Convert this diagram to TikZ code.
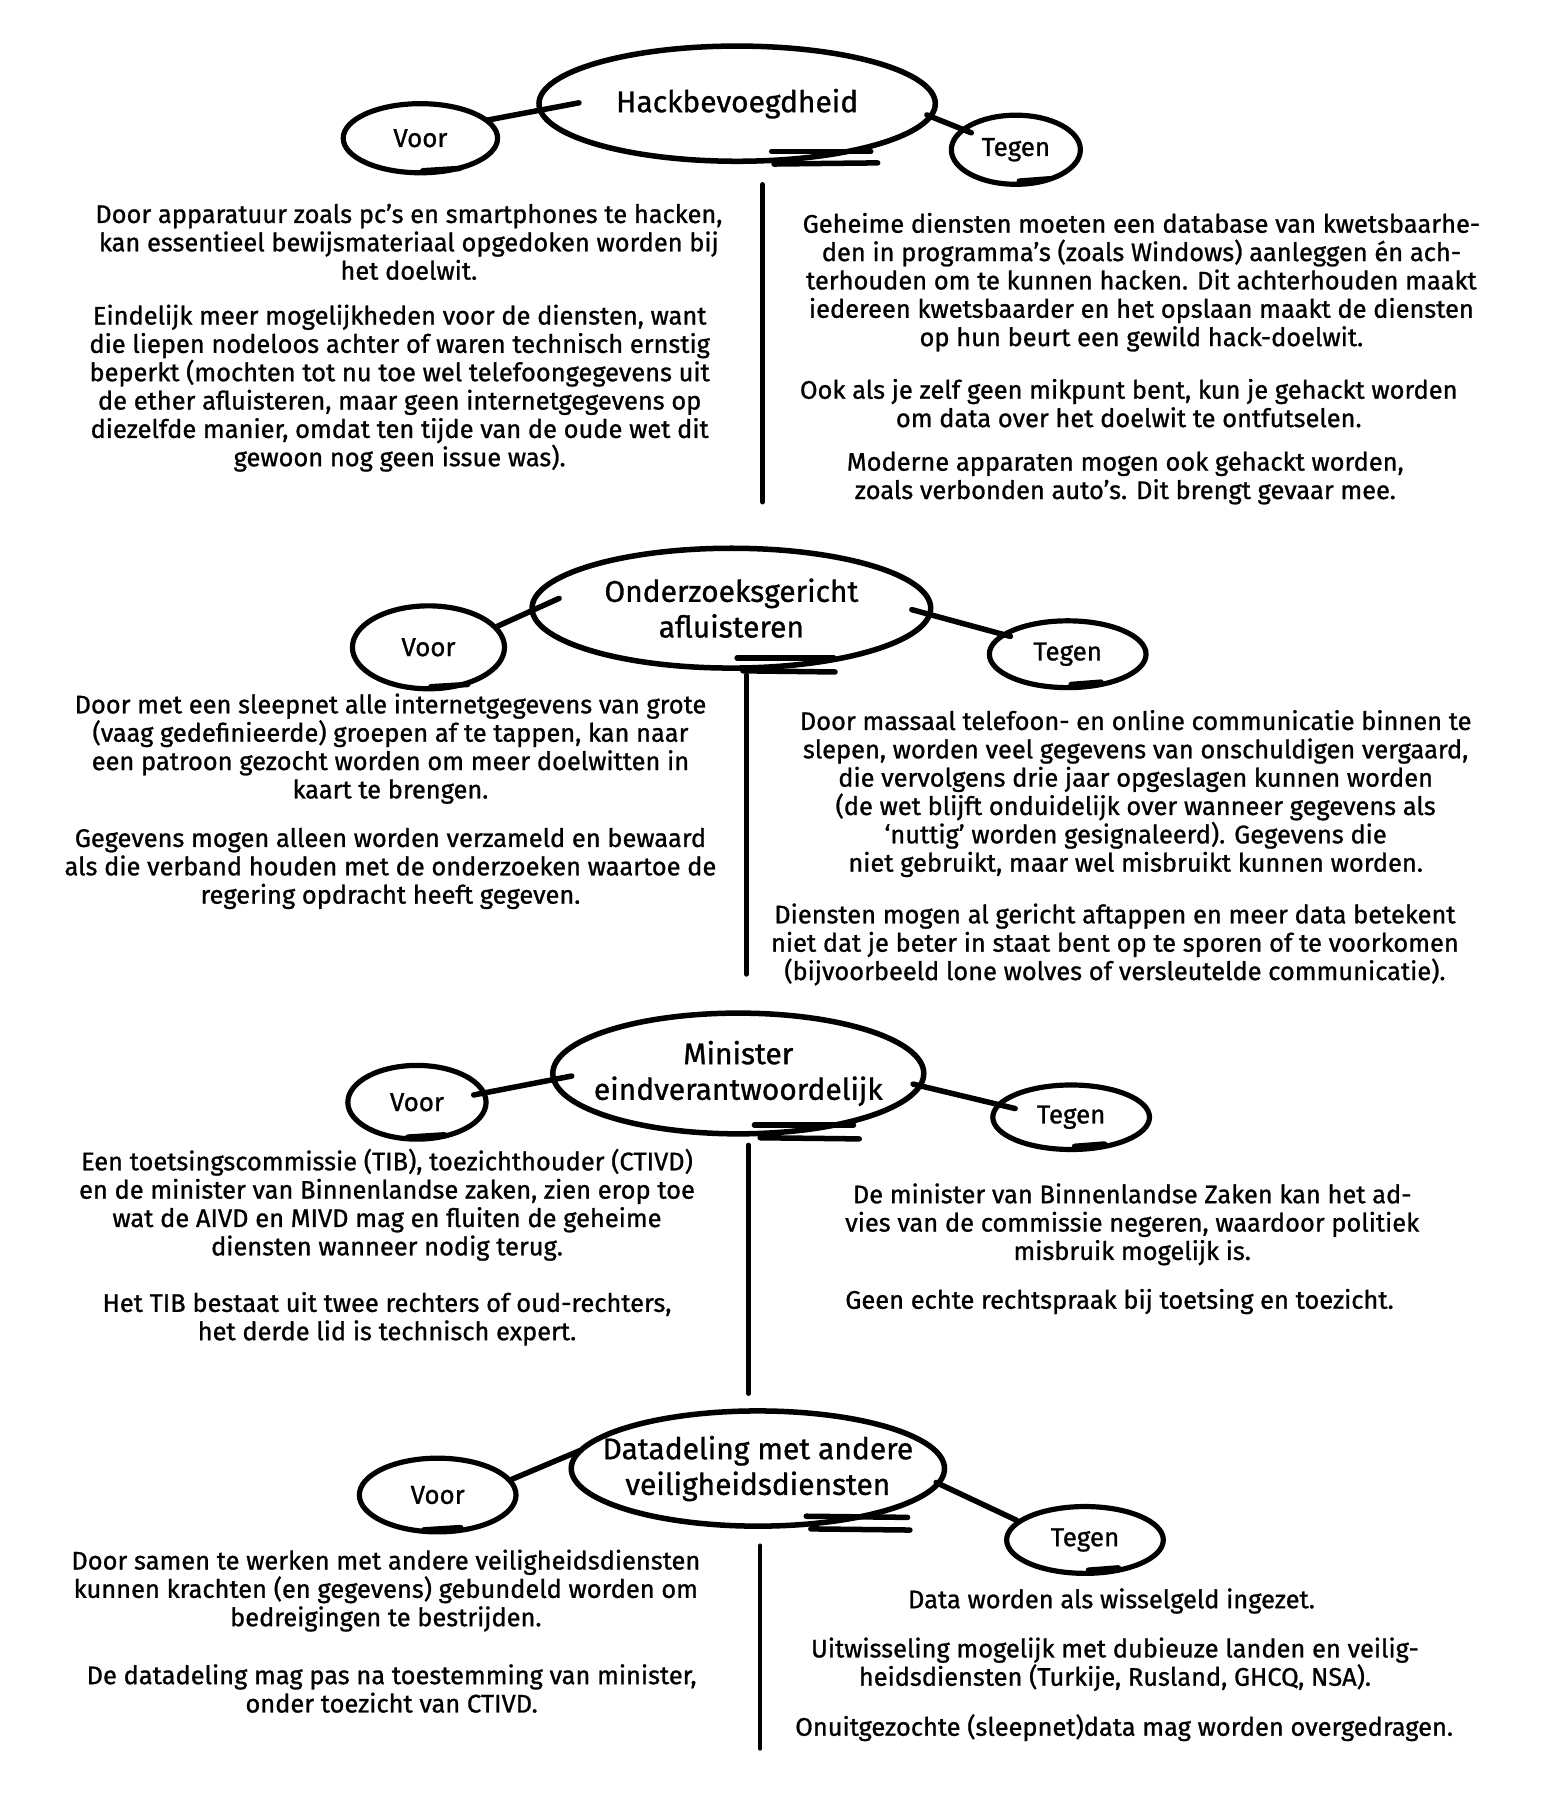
\documentclass[tikz,border=0pt]{standalone}
\usepackage{fontspec}
\setmainfont{Fira Sans}[FakeBold=1]
\usetikzlibrary{shapes.geometric}

\begin{document}
\begin{tikzpicture}[
  x=0.025cm, y=-0.025cm,
  every node/.style={font=\fontsize{15.7}{17.5}\selectfont},
  topic/.style={
    ellipse, draw, line width=3.4pt, inner xsep=-30pt, inner ysep=-8pt,
    align=center, font=\fontsize{18.5}{22}\selectfont
  },
  side/.style={
    ellipse, draw, line width=3.2pt, inner sep=0pt,
    font=\fontsize{16}{18}\selectfont
  },
  pen/.style={line width=3.4pt, line cap=round},
  divider/.style={line width=2.8pt, line cap=round},
  para/.style={align=center, inner sep=0pt},
]
\useasboundingbox (0,0) rectangle (1341,1568);

%% Block 1: Hackbevoegdheid
\node[topic, minimum width=8.6cm, minimum height=2.5cm] (hack) at (640,90) {Hackbevoegdheid};
\node[side, minimum width=3.35cm, minimum height=1.5cm] (hackvoor) at (365,120) {Voor};
\node[side, minimum width=2.8cm, minimum height=1.5cm] (hacktegen) at (882,130) {Tegen};

\draw[pen, shorten <=-1pt, shorten >=-26pt] (hackvoor.15) -- (hack.182);
\draw[pen, shorten <=-4pt, shorten >=-7pt] (hack.356) -- (hacktegen.159);
\draw[pen] ([shift={(30,-11)}]hack.south) -- ++(86,0);
\draw[pen] ([shift={(32,0)}]hack.south) -- ++(90,-1);
\draw[pen] ([shift={(2,-4)}]hackvoor.south) -- ++(32,-2);
\draw[pen] ([shift={(3,-5)}]hacktegen.south) -- ++(26,-2);

\coordinate (hacktop) at (662,160);
\coordinate (hackbot) at (662,436);
\draw[divider] (hacktop) -- (hackbot);

\node[para] (hackpro1) at (355,210) {Door apparatuur zoals pc’s en smartphones te hacken,\\
  kan essentieel bewijsmateriaal opgedoken worden bij\\
  het doelwit.};
\node[para] (hackpro2) at (347,337) {Eindelijk meer mogelijkheden voor de diensten, want\\
  die liepen nodeloos achter of waren technisch ernstig\\
  beperkt (mochten tot nu toe wel telefoongegevens uit\\
  de ether afluisteren, maar geen internetgegevens op\\
  diezelfde manier, omdat ten tijde van de oude wet dit\\
  gewoon nog geen issue was).};
\node[para] (hackcon1) at (991,245) {Geheime diensten moeten een database van kwetsbaarhe-\\
  den in programma’s (zoals Windows) aanleggen én ach-\\
  terhouden om te kunnen hacken. Dit achterhouden maakt\\
  iedereen kwetsbaarder en het opslaan maakt de diensten\\
  op hun beurt een gewild hack-doelwit.};
\node[para] (hackcon2) at (980,350) {Ook als je zelf geen mikpunt bent, kun je gehackt worden\\
  om data over het doelwit te ontfutselen.};
\node[para] (hackcon3) at (977,415) {Moderne apparaten mogen ook gehackt worden,\\
  zoals verbonden auto’s. Dit brengt gevaar mee.};

%% Block 2: Onderzoeksgericht afluisteren
\node[topic, minimum width=8.65cm, minimum height=2.6cm] (afl) at (635,528) {Onderzoeksgericht\\afluisteren};
\node[side, minimum width=3.3cm, minimum height=1.8cm] (aflvoor) at (372,562) {Voor};
\node[side, minimum width=3.4cm, minimum height=1.45cm] (afltegen) at (927,568) {Tegen};

\draw[pen, shorten >=-20pt] (aflvoor.17) -- (afl.181);
\draw[pen, shorten <=-13pt, shorten >=-6pt] (afl.358) -- (afltegen.163);
\draw[pen] ([shift={(5,-11)}]afl.south) -- ++(84,0);
\draw[pen] ([shift={(10,0)}]afl.south) -- ++(80,1);
\draw[pen] ([shift={(2,-4)}]aflvoor.south) -- ++(32,-2);
\draw[pen] ([shift={(3,-5)}]afltegen.south) -- ++(26,-2);

\coordinate (afltop) at (648,586);
\coordinate (aflbot) at (648,846);
\draw[divider] (afltop) -- (aflbot);

\node[para] (aflpro1) at (339,650) {Door met een sleepnet alle internetgegevens van grote\\
  (vaag gedefinieerde) groepen af te tappen, kan naar\\
  een patroon gezocht worden om meer doelwitten in\\
  kaart te brengen.};
\node[para] (aflpro2) at (339,754) {Gegevens mogen alleen worden verzameld en bewaard\\
  als die verband houden met de onderzoeken waartoe de\\
  regering opdracht heeft gegeven.};
\node[para] (aflcon1) at (986,689) {Door massaal telefoon- en online communicatie binnen te\\
  slepen, worden veel gegevens van onschuldigen vergaard,\\
  die vervolgens drie jaar opgeslagen kunnen worden\\
  (de wet blijft onduidelijk over wanneer gegevens als\\
  ‘nuttig’ worden gesignaleerd). Gegevens die\\
  niet gebruikt, maar wel misbruikt kunnen worden.};
\node[para] (aflcon2) at (968,820) {Diensten mogen al gericht aftappen en meer data betekent\\
  niet dat je beter in staat bent op te sporen of te voorkomen\\
  (bijvoorbeeld lone wolves of versleutelde communicatie).};

%% Block 3: Minister eindverantwoordelijk
\node[topic, minimum width=8.05cm, minimum height=2.62cm] (mini) at (641,932) {Minister\\eindverantwoordelijk};
\node[side, minimum width=3.0cm, minimum height=1.6cm] (minivoor) at (362,957) {Voor};
\node[side, minimum width=3.4cm, minimum height=1.4cm] (minitegen) at (930,970) {Tegen};

\draw[pen, shorten <=-8pt, shorten >=-13pt] (minivoor.8) -- (mini.182);
\draw[pen, shorten <=-6pt, shorten >=-12pt] (mini.356) -- (minitegen.170);
\draw[pen] ([shift={(14,-10)}]mini.south) -- ++(86,0);
\draw[pen] ([shift={(19,1)}]mini.south) -- ++(86,1);
\draw[pen] ([shift={(-8,-4)}]minivoor.south) -- ++(32,-2);
\draw[pen] ([shift={(3,-5)}]minitegen.south) -- ++(26,-2);

\coordinate (minitop) at (650,994);
\coordinate (minibot) at (650,1210);
\draw[divider] (minitop) -- (minibot);

\node[para] (minipro1) at (336,1046) {Een toetsingscommissie (TIB), toezichthouder (CTIVD)\\
  en de minister van Binnenlandse zaken, zien erop toe\\
  wat de AIVD en MIVD mag en fluiten de geheime\\
  diensten wanneer nodig terug.};
\node[para] (minipro2) at (336,1145) {Het TIB bestaat uit twee rechters of oud-rechters,\\
  het derde lid is technisch expert.};
\node[para] (minicon1) at (983,1063) {De minister van Binnenlandse Zaken kan het ad-\\
  vies van de commissie negeren, waardoor politiek\\
  misbruik mogelijk is.};
\node[para] (minicon2) at (972,1130) {Geen echte rechtspraak bij toetsing en toezicht.};

%% Block 4: Datadeling
\node[topic, minimum width=8.1cm, minimum height=2.5cm] (data) at (658,1275) {Datadeling met andere\\veiligheidsdiensten};
\node[side, minimum width=3.4cm, minimum height=1.6cm] (datavoor) at (380,1298) {Voor};
\node[side, minimum width=3.4cm, minimum height=1.45cm] (datategen) at (942,1337) {Tegen};

\draw[pen, shorten >=-3pt] (datavoor.12) -- (data.175);
\draw[pen, shorten <=-3pt] (data.355) -- (datategen.164);
\draw[pen] ([shift={(42,-11)}]data.south) -- ++(88,1);
\draw[pen] ([shift={(46,0)}]data.south) -- ++(86,1);
\draw[pen] ([shift={(-12,-4)}]datavoor.south) -- ++(32,-2);
\draw[pen] ([shift={(3,-5)}]datategen.south) -- ++(26,-2);

\coordinate (datatop) at (660,1342);
\coordinate (databot) at (660,1518);
\draw[divider] (datatop) -- (databot);

\node[para] (datapro1) at (335,1381) {Door samen te werken met andere veiligheidsdiensten\\
  kunnen krachten (en gegevens) gebundeld worden om\\
  bedreigingen te bestrijden.};
\node[para] (datapro2) at (340,1466) {De datadeling mag pas na toestemming van minister,\\
  onder toezicht van CTIVD.};
\node[para] (datacon1) at (965,1390) {Data worden als wisselgeld ingezet.};
\node[para] (datacon2) at (968,1445) {Uitwisseling mogelijk met dubieuze landen en veilig-\\
  heidsdiensten (Turkije, Rusland, GHCQ, NSA).};
\node[para] (datacon3) at (976,1500) {Onuitgezochte (sleepnet)data mag worden overgedragen.};

\end{tikzpicture}
\end{document}
